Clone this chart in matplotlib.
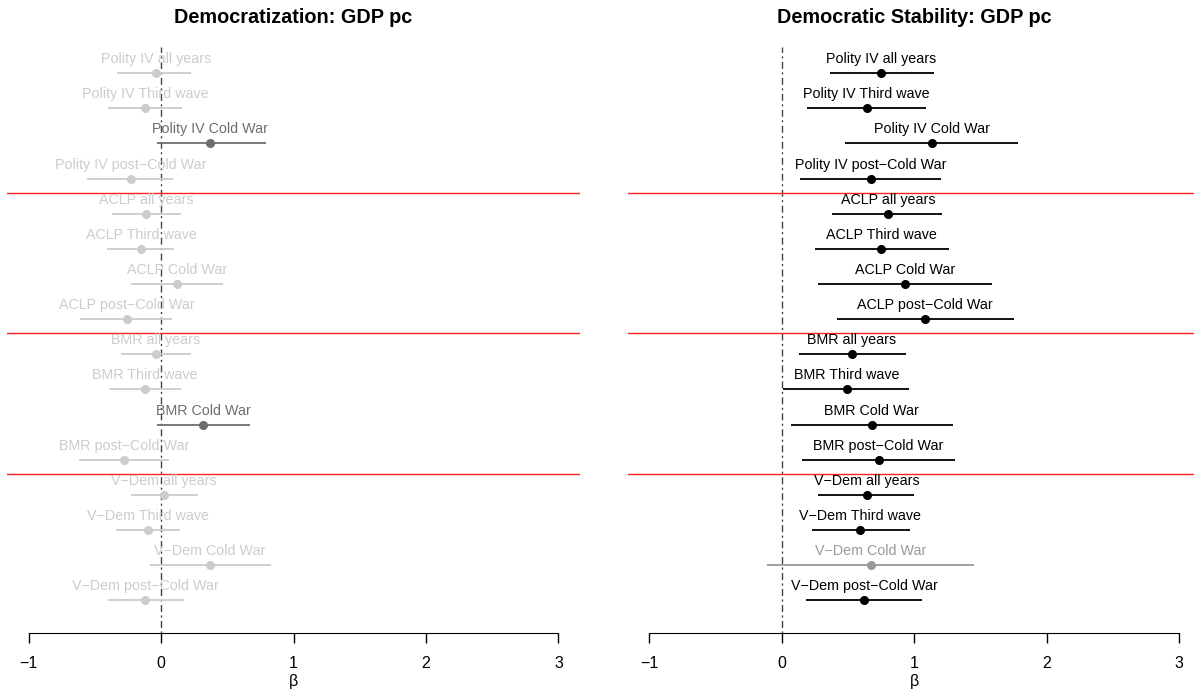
import numpy as np
import matplotlib
matplotlib.use("Agg")
import matplotlib.pyplot as plt

plt.rcParams["font.family"] = ["Liberation Sans", "DejaVu Sans"]

# ============================================
# data
# ============================================
labels = ["Polity IV all years", "Polity IV Third wave", "Polity IV Cold War", "Polity IV post\u2212Cold War",
          "ACLP all years", "ACLP Third wave", "ACLP Cold War", "ACLP post\u2212Cold War",
          "BMR all years", "BMR Third wave", "BMR Cold War", "BMR post\u2212Cold War",
          "V\u2212Dem all years", "V\u2212Dem Third wave", "V\u2212Dem Cold War", "V\u2212Dem post\u2212Cold War"]

# Democratization: GDP pc
dem_est = [-0.04, -0.12, 0.37, -0.23, -0.11, -0.15, 0.12, -0.26, -0.04, -0.12, 0.32, -0.28, 0.02, -0.10, 0.37, -0.12]
dem_lo = [-0.33, -0.40, -0.03, -0.56, -0.37, -0.41, -0.23, -0.61, -0.30, -0.39, -0.03, -0.62, -0.23, -0.34, -0.08, -0.40]
dem_hi = [0.23, 0.16, 0.79, 0.09, 0.15, 0.10, 0.47, 0.08, 0.23, 0.15, 0.67, 0.06, 0.28, 0.14, 0.83, 0.17]
dem_sig = [0, 0, 1, 0, 0, 0, 0, 0, 0, 0, 1, 0, 0, 0, 0, 0]

# Democratic Stability: GDP pc
stab_est = [0.75, 0.64, 1.13, 0.67, 0.80, 0.75, 0.93, 1.08, 0.53, 0.49, 0.68, 0.73, 0.64, 0.59, 0.67, 0.62]
stab_lo = [0.36, 0.19, 0.48, 0.14, 0.38, 0.25, 0.27, 0.42, 0.13, 0.01, 0.07, 0.15, 0.27, 0.23, -0.11, 0.18]
stab_hi = [1.15, 1.09, 1.78, 1.20, 1.21, 1.26, 1.59, 1.75, 0.94, 0.96, 1.29, 1.31, 1.00, 0.97, 1.45, 1.06]
stab_sig = [1, 1, 1, 1, 1, 1, 1, 1, 1, 1, 1, 1, 1, 1, 0, 1]

panels = [
    ("Democratization: GDP pc", dem_est, dem_lo, dem_hi, dem_sig, {0: "#cccccc", 1: "#6e6e6e"}),
    ("Democratic Stability: GDP pc", stab_est, stab_lo, stab_hi, stab_sig, {0: "#999999", 1: "#000000"}),
]

fig = plt.figure(figsize=(11.94, 6.94), dpi=100)
ax_pos = [[7.3 / 1194, 0.0883, 572.4 / 1194, 0.844],
          [628.1 / 1194, 0.0883, 572.4 / 1194, 0.844]]

rows = np.arange(len(labels))
for pos, (title, est, lo, hi, sig, cols) in zip(ax_pos, panels):
    ax = fig.add_axes(pos)
    ax.set_xlim(-1.16, 3.16)
    ax.set_ylim(15.92, -0.745)

    ax.axvline(0, color="#444444", lw=1, linestyle=(0, (1.5, 2.5, 5, 2.5)), zorder=1)
    for h in [3.4, 7.4, 11.4]:
        ax.axhline(h, color="#ff2020", lw=1.0, zorder=1)

    for i in rows:
        c = cols[sig[i]]
        ax.plot([lo[i], hi[i]], [i, i], color=c, lw=1.3, zorder=2, solid_capstyle="butt")
        ax.plot(est[i], i, "o", color=c, markersize=5.5, zorder=3)
        ax.text(est[i], i - 0.4, labels[i], color=c, fontsize=10.3, ha="center", va="center", zorder=3)

    for s in ["top", "right", "left"]:
        ax.spines[s].set_visible(False)
    ax.spines["bottom"].set_bounds(-1, 3)
    ax.set_yticks([])
    ax.set_xticks([-1, 0, 1, 2, 3])
    ax.tick_params(axis="x", length=7, width=1, labelsize=11.5, pad=10)
    ax.set_xlabel("\u03b2", fontsize=11.5, labelpad=2)
    ax.set_title(title, fontsize=14.3, fontweight="bold", pad=17)

plt.savefig("out.png", dpi=100)
plt.close()
